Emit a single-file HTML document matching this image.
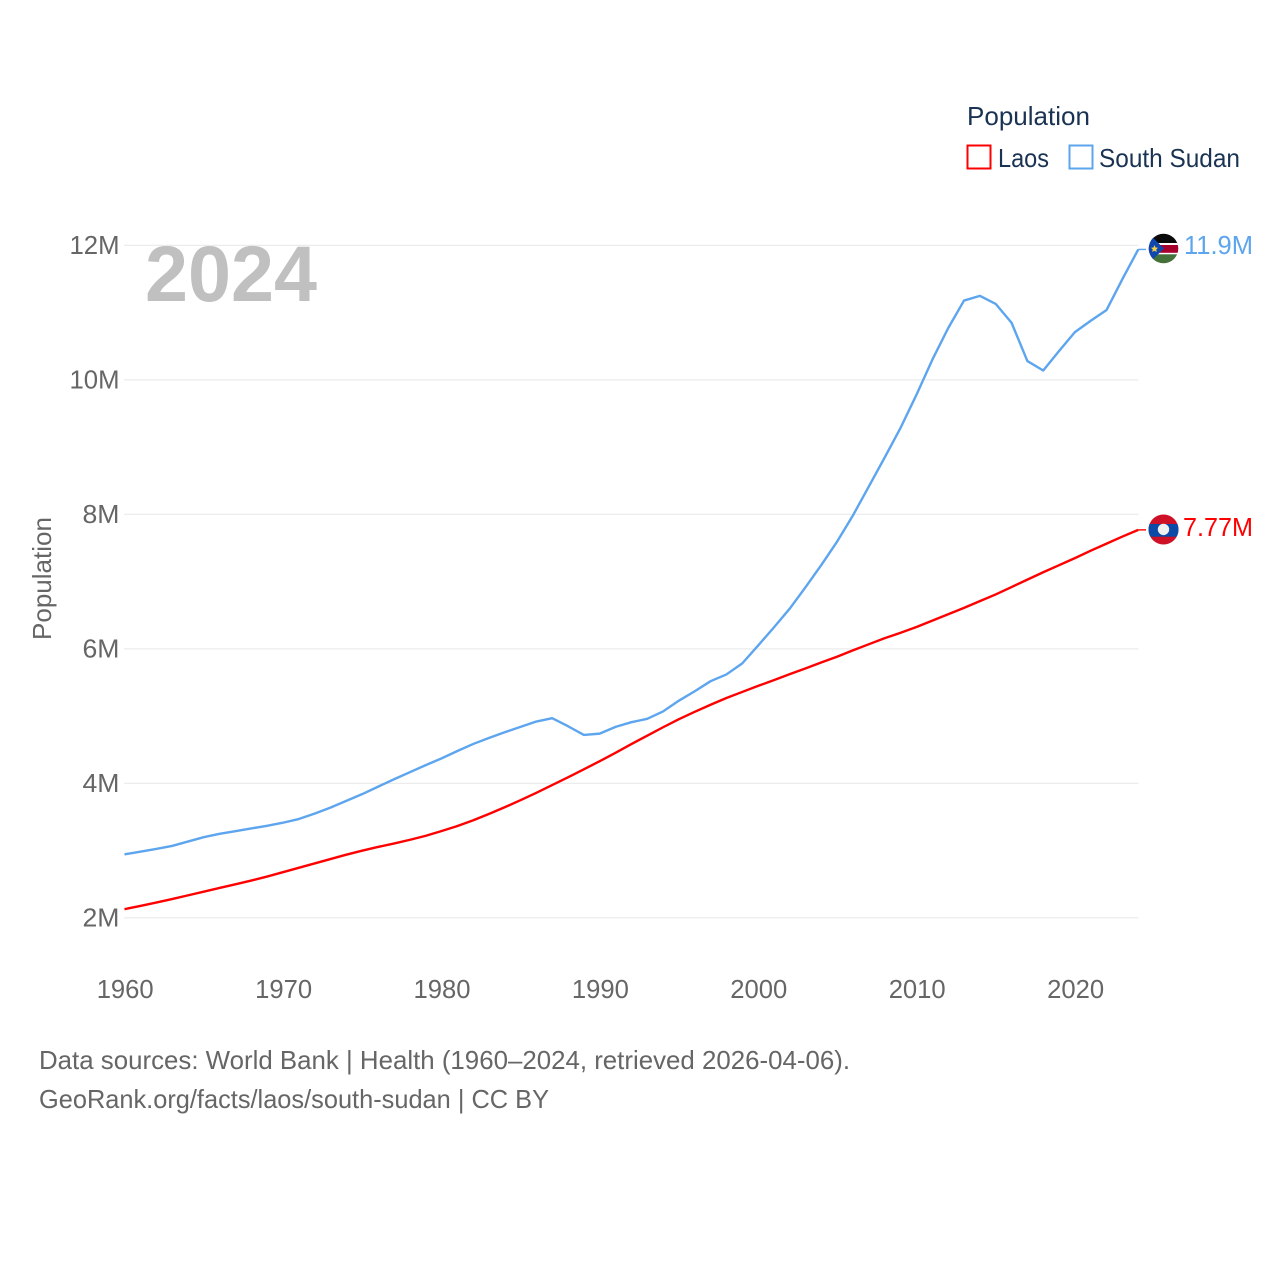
<!DOCTYPE html>
<html>
<head>
<meta charset="utf-8">
<title>Population: Laos and South Sudan</title>
<style>
html,body{margin:0;padding:0;background:#fff;}
svg{display:block;}
text{font-family:"Liberation Sans",sans-serif;}
</style>
</head>
<body>
<svg id="chart" xmlns="http://www.w3.org/2000/svg" width="1280" height="1280" viewBox="0 0 1280 1280">
  <rect x="0" y="0" width="1280" height="1280" fill="#ffffff"/>
  <defs>
    <clipPath id="clip-ss"><circle cx="1163.5" cy="248.5" r="14.8"/></clipPath>
    <clipPath id="clip-la"><circle cx="1163.5" cy="529.5" r="15"/></clipPath>
  </defs>
  <g id="grid"></g>
  <g id="yticks"></g>
  <g id="xticks"></g>
  <text transform="translate(51,640) rotate(-90)" font-size="26" fill="#666666" textLength="123" lengthAdjust="spacingAndGlyphs">Population</text>
  <text x="145" y="301" font-size="79" font-weight="700" fill="#c0c0c0" textLength="172" lengthAdjust="spacingAndGlyphs">2024</text>
  <g id="series"></g>

  <g clip-path="url(#clip-ss)">
    <rect x="1148" y="233" width="31" height="11" fill="#0b0b0b"/>
    <rect x="1148" y="243" width="31" height="11.5" fill="#ffffff"/>
    <rect x="1148" y="245" width="31" height="7.8" fill="#a8002c"/>
    <rect x="1148" y="254.3" width="31" height="10.7" fill="#44703a"/>
    <polygon points="1148,233 1164,248.5 1148,264" fill="#0f47af"/>
    <polygon points="1154.5,245 1155.5,247.5 1158,247.8 1156.2,249.5 1156.8,252 1154.5,250.7 1152.2,252 1152.8,249.5 1151,247.8 1153.5,247.5" fill="#f5cf45"/>
  </g>
  <g clip-path="url(#clip-la)">
    <rect x="1148" y="514" width="31" height="31" fill="#ce1126"/>
    <rect x="1148" y="524" width="31" height="12.7" fill="#0c4aa8"/>
    <circle cx="1163.5" cy="529.4" r="5.7" fill="#f0f0f0"/>
  </g>
  <text x="1184" y="254" font-size="26" fill="#5da5ee" textLength="69" lengthAdjust="spacingAndGlyphs">11.9M</text>
  <text x="1183" y="536" font-size="26" fill="#ff0000" textLength="70" lengthAdjust="spacingAndGlyphs">7.77M</text>

  <g>
    <text x="967" y="125" font-size="26" fill="#1a3353" textLength="123" lengthAdjust="spacingAndGlyphs">Population</text>
    <rect x="967.5" y="145.5" width="23" height="23" fill="none" stroke="#ff0000" stroke-width="2"/>
    <text x="998" y="167" font-size="26" fill="#1a3353" textLength="51" lengthAdjust="spacingAndGlyphs">Laos</text>
    <rect x="1069.5" y="145.5" width="23" height="23" fill="none" stroke="#5da5ee" stroke-width="2"/>
    <text x="1099" y="167" font-size="26" fill="#1a3353" textLength="141" lengthAdjust="spacingAndGlyphs">South Sudan</text>
  </g>

  <text x="39" y="1069" font-size="26" fill="#666666" textLength="811" lengthAdjust="spacingAndGlyphs">Data sources: World Bank | Health (1960–2024, retrieved 2026-04-06).</text>
  <text x="39" y="1108" font-size="26" fill="#666666" textLength="510" lengthAdjust="spacingAndGlyphs">GeoRank.org/facts/laos/south-sudan | CC BY</text>
</svg>
<script>
const years = [1960,1961,1962,1963,1964,1965,1966,1967,1968,1969,1970,1971,1972,1973,1974,1975,1976,1977,1978,1979,1980,1981,1982,1983,1984,1985,1986,1987,1988,1989,1990,1991,1992,1993,1994,1995,1996,1997,1998,1999,2000,2001,2002,2003,2004,2005,2006,2007,2008,2009,2010,2011,2012,2013,2014,2015,2016,2017,2018,2019,2020,2021,2022,2023,2024];
const laosValues = [2.13,2.178,2.228,2.28,2.335,2.39,2.445,2.5,2.555,2.615,2.68,2.745,2.81,2.875,2.94,3.0,3.055,3.105,3.16,3.22,3.29,3.365,3.45,3.545,3.645,3.75,3.86,3.975,4.09,4.21,4.33,4.455,4.585,4.71,4.835,4.955,5.065,5.17,5.27,5.36,5.45,5.535,5.625,5.71,5.8,5.885,5.98,6.07,6.16,6.24,6.325,6.42,6.515,6.61,6.71,6.81,6.92,7.03,7.14,7.245,7.35,7.46,7.565,7.67,7.77];
const southSudanValues = [2.945,2.985,3.025,3.07,3.135,3.2,3.25,3.29,3.33,3.37,3.415,3.47,3.55,3.64,3.74,3.84,3.95,4.06,4.165,4.27,4.37,4.48,4.585,4.675,4.76,4.84,4.92,4.97,4.85,4.72,4.74,4.84,4.91,4.96,5.07,5.23,5.37,5.52,5.62,5.785,6.05,6.32,6.6,6.92,7.25,7.6,7.99,8.42,8.85,9.29,9.78,10.3,10.77,11.18,11.25,11.13,10.85,10.28,10.14,10.43,10.71,10.88,11.04,11.5,11.94];
const yTicks = [2,4,6,8,10,12];
const xTicks = [1960,1970,1980,1990,2000,2010,2020];

const NS = 'http://www.w3.org/2000/svg';
function xScale(year){ return 124.5 + (year - 1960) * 15.84; }
function yScale(value){ return 917.9 - (value - 2) * 67.25; }
function make(tag, parent){
  const el = document.createElementNS(NS, tag);
  document.getElementById(parent).appendChild(el);
  return el;
}

yTicks.forEach(function(t){
  const line = make('line', 'grid');
  
  
  line.setAttribute('x1', 124);
  line.setAttribute('x2', 1138.5);
  line.setAttribute('y1', yScale(t));
  line.setAttribute('y2', yScale(t));
  line.setAttribute('stroke', '#ececec');
  line.setAttribute('stroke-width', '1.2');

  const label = make('text', 'yticks');
  
  
  label.setAttribute('x', 119.5);
  label.setAttribute('y', yScale(t) + 8.5);
  label.setAttribute('text-anchor', 'end');
  label.setAttribute('font-size', '26');
  label.setAttribute('fill', '#666666');
  label.setAttribute('textLength', t >= 10 ? 50 : 37);
  label.setAttribute('lengthAdjust', 'spacingAndGlyphs');
  label.textContent = t + 'M';
});

xTicks.forEach(function(t){
  const label = make('text', 'xticks');
  
  
  label.setAttribute('x', xScale(t) + 0.7);
  label.setAttribute('y', 998);
  label.setAttribute('text-anchor', 'middle');
  label.setAttribute('font-size', '26');
  label.setAttribute('fill', '#666666');
  label.setAttribute('textLength', 57);
  label.setAttribute('lengthAdjust', 'spacingAndGlyphs');
  label.textContent = t;
});

function pathFor(values){
  return values.map(function(v, i){
    return (i ? 'L' : 'M') + xScale(years[i]).toFixed(2) + ' ' + yScale(v).toFixed(2);
  }).join(' ');
}

const southLine = make('path', 'series');


southLine.setAttribute('d', pathFor(southSudanValues));
southLine.setAttribute('fill', 'none');
southLine.setAttribute('stroke', '#5da5ee');
southLine.setAttribute('stroke-width', '2.4');
southLine.setAttribute('stroke-linejoin', 'round');

const laosLine = make('path', 'series');


laosLine.setAttribute('d', pathFor(laosValues));
laosLine.setAttribute('fill', 'none');
laosLine.setAttribute('stroke', '#ff0000');
laosLine.setAttribute('stroke-width', '2.4');
laosLine.setAttribute('stroke-linejoin', 'round');

const southLast = southSudanValues[southSudanValues.length - 1];
const laosLast = laosValues[laosValues.length - 1];

const southConnector = make('line', 'series');


southConnector.setAttribute('x1', xScale(2024));
southConnector.setAttribute('x2', 1146);
southConnector.setAttribute('y1', yScale(southLast));
southConnector.setAttribute('y2', yScale(southLast));
southConnector.setAttribute('stroke', '#5da5ee');
southConnector.setAttribute('stroke-width', '1.4');

const laosConnector = make('line', 'series');


laosConnector.setAttribute('x1', xScale(2024));
laosConnector.setAttribute('x2', 1146);
laosConnector.setAttribute('y1', yScale(laosLast));
laosConnector.setAttribute('y2', yScale(laosLast));
laosConnector.setAttribute('stroke', '#ff0000');
laosConnector.setAttribute('stroke-width', '1.4');
</script>
</body>
</html>
